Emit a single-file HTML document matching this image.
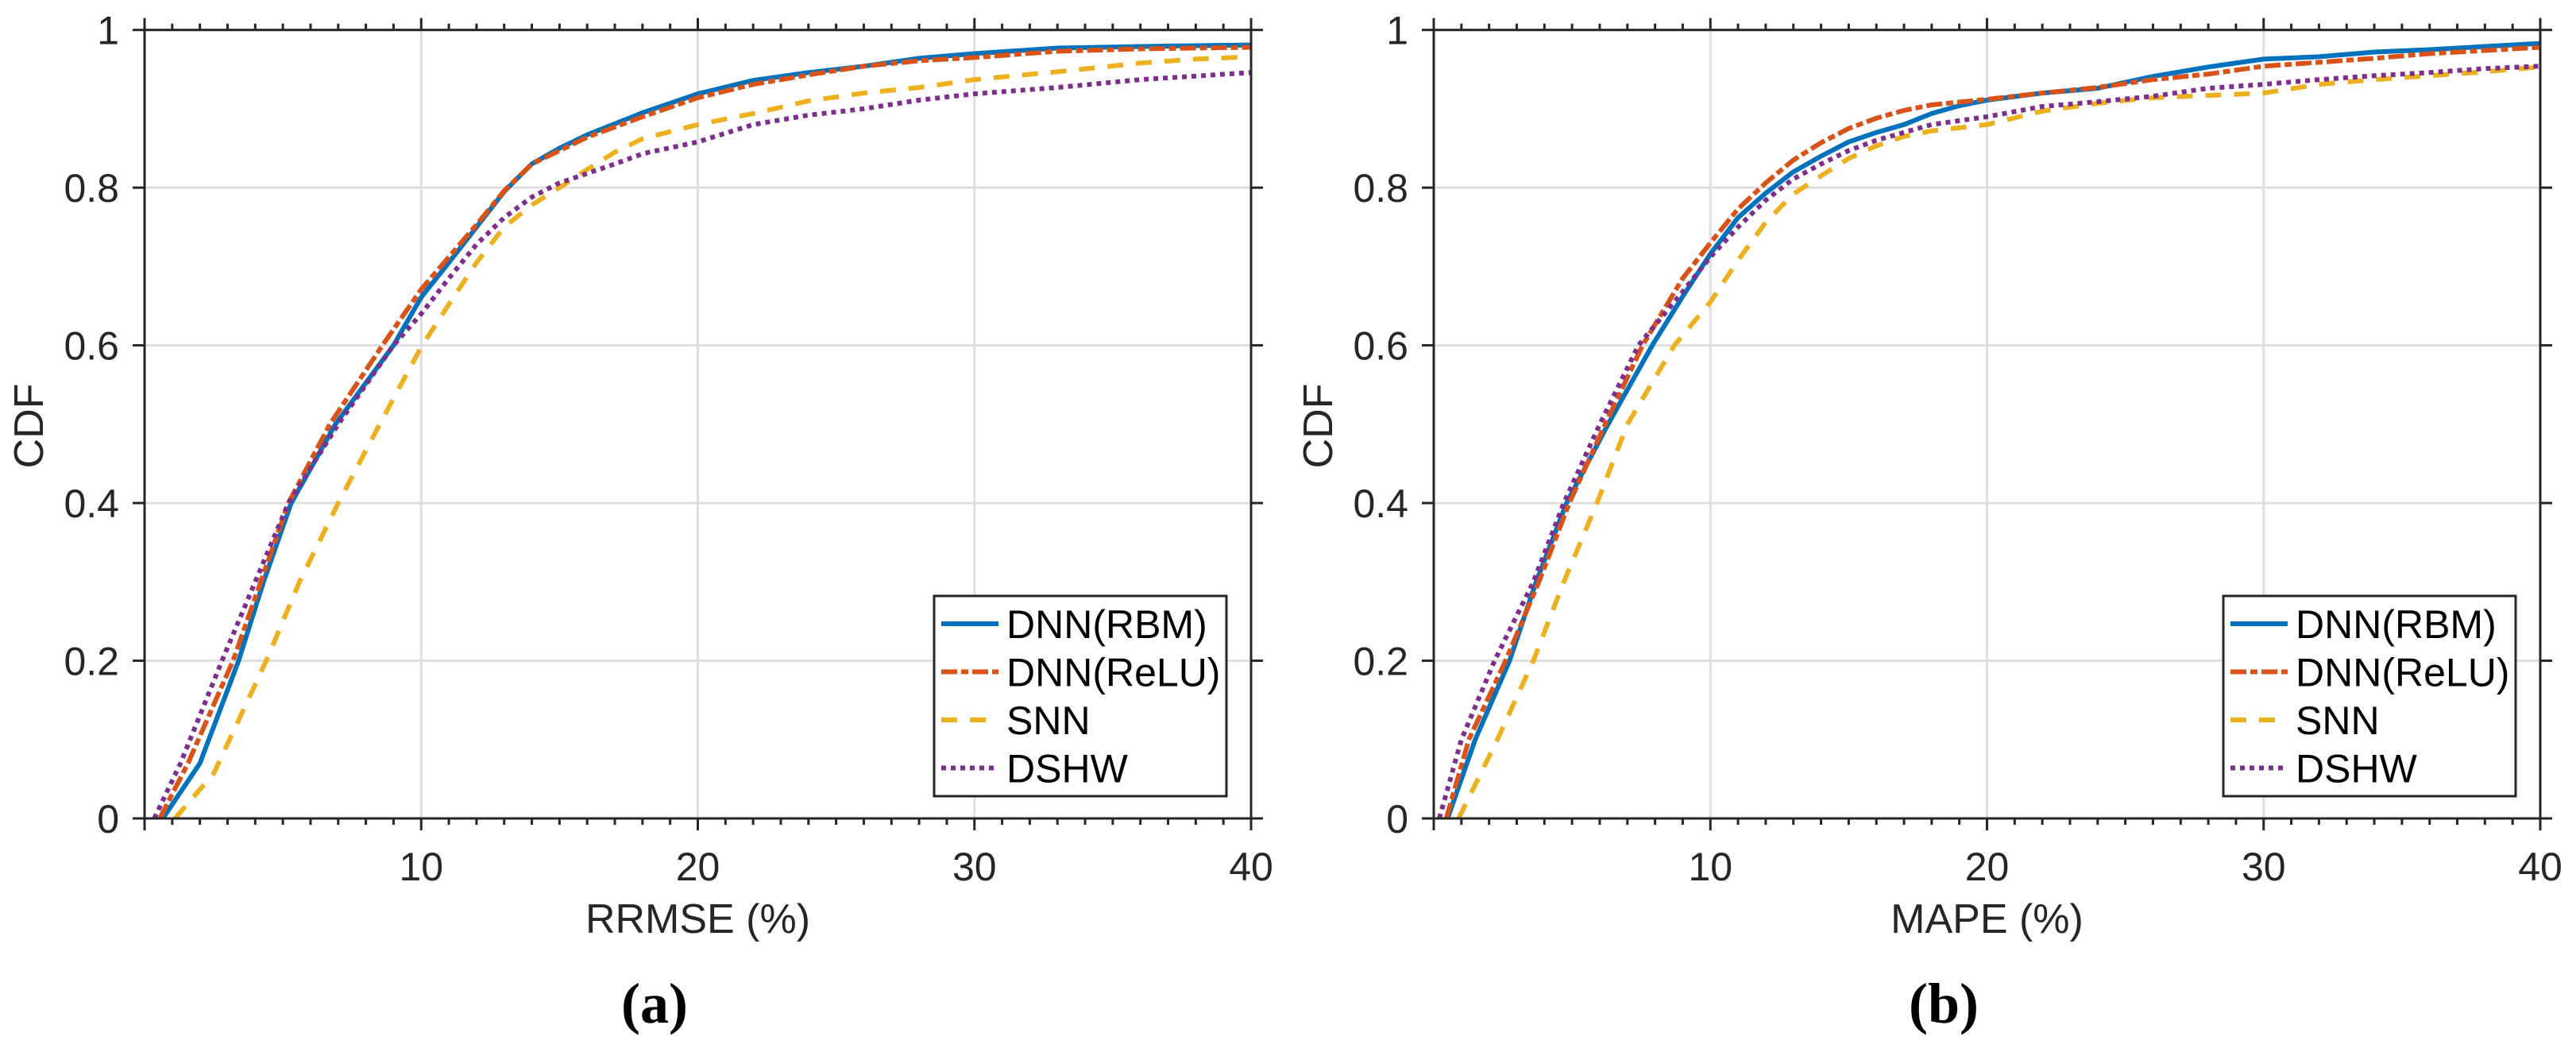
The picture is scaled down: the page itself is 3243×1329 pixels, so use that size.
<!DOCTYPE html>
<html><head><meta charset="utf-8"><style>
html,body{margin:0;padding:0;background:#fff;}
svg{display:block;font-family:"Liberation Sans",sans-serif;}
</style></head><body>
<svg id="fig" width="3243" height="1329" viewBox="0 0 3243 1329" xmlns="http://www.w3.org/2000/svg"></svg>
<script>
// ---- Data ----
const xTicks = [10, 20, 30, 40];
const yTicks = [0, 0.2, 0.4, 0.6, 0.8, 1];
const yTickLabels = ["0", "0.2", "0.4", "0.6", "0.8", "1"];
const seriesNames = ["DNN(RBM)", "DNN(ReLU)", "SNN", "DSHW"];
const panelLabels = ["(a)", "(b)"];
const xAxisTitles = ["RRMSE (%)", "MAPE (%)"];

// Panel (a): RRMSE
const aRbmX  = [0.66,2.0,3.4,4.3,5.3,6.9,9.0,10,11,12,13,14,15,16,18,20,22,24,26,28,30,33,36,40];
const aRbmY  = [0,0.07,0.2,0.3,0.4,0.5,0.6,0.661,0.705,0.75,0.795,0.830,0.850,0.867,0.895,0.919,0.936,0.946,0.954,0.964,0.970,0.977,0.979,0.981];
const aReluX = [0.55,1.57,3.2,4.2,5.2,6.7,8.6,10,11,12,13,14,16,18,20,22,24,26,28,30,33,36,40];
const aReluY = [0,0.07,0.2,0.3,0.4,0.5,0.6,0.671,0.712,0.753,0.796,0.830,0.864,0.890,0.914,0.931,0.943,0.954,0.961,0.965,0.973,0.976,0.978];
const aSnnX  = [1.1,2.5,4.4,5.6,7.0,8.5,10,11,12,13,14,15,16,17,18,20,22,24,26,28,30,33,36,38,40];
const aSnnY  = [0,0.057,0.2,0.3,0.4,0.5,0.598,0.652,0.705,0.750,0.778,0.800,0.823,0.845,0.862,0.880,0.894,0.910,0.920,0.927,0.937,0.947,0.958,0.963,0.966];
const aDshwX = [0.35,1.3,2.8,4.0,5.2,7.0,9.0,10,11,12,13,14,15,16,17,18,20,22,24,26,28,30,33,36,40];
const aDshwY = [0,0.07,0.2,0.3,0.4,0.5,0.6,0.64,0.685,0.728,0.762,0.788,0.806,0.818,0.830,0.843,0.858,0.880,0.892,0.900,0.911,0.919,0.927,0.937,0.946];

// Panel (b): MAPE
const bRbmX  = [0.5,1.5,2.74,3.7,4.8,6.3,7.9,9,10,11,12,13,14,15,16,17,18,19,20,22,24,26,28,30,32,34,36,38,40];
const bRbmY  = [0,0.1,0.2,0.3,0.4,0.5,0.6,0.662,0.716,0.762,0.793,0.820,0.840,0.858,0.870,0.880,0.894,0.904,0.911,0.920,0.926,0.941,0.953,0.963,0.966,0.972,0.975,0.979,0.983];
const bReluX = [0.45,1.27,2.6,3.8,4.9,6.2,7.55,9,10,11,12,13,14,15,16,17,18,20,22,24,26,28,30,32,34,36,38,40];
const bReluY = [0,0.1,0.2,0.3,0.4,0.5,0.6,0.685,0.73,0.773,0.806,0.835,0.857,0.875,0.888,0.898,0.905,0.912,0.920,0.927,0.937,0.944,0.954,0.959,0.964,0.970,0.974,0.978];
const bSnnX  = [0.9,2.3,3.6,4.7,5.9,7.0,8.7,10,11,12,13,14,15,16,17,18,20,22,24,26,28,30,32,34,36,38,40];
const bSnnY  = [0,0.1,0.2,0.3,0.4,0.5,0.6,0.655,0.708,0.756,0.792,0.815,0.837,0.853,0.865,0.872,0.880,0.897,0.907,0.914,0.917,0.920,0.931,0.937,0.942,0.947,0.953];
const bDshwX = [0.2,1.0,2.2,3.6,4.7,6.0,7.4,9,10,11,12,13,14,15,16,17,18,20,22,24,26,28,30,32,34,36,38,40];
const bDshwY = [0,0.1,0.2,0.3,0.4,0.5,0.6,0.668,0.712,0.750,0.784,0.811,0.830,0.847,0.860,0.870,0.880,0.890,0.903,0.909,0.916,0.926,0.931,0.937,0.942,0.946,0.951,0.954];

// ---- Rendering ----
const NS = "http://www.w3.org/2000/svg";
const svg = document.getElementById("fig");
const AX = "#262626";
const styles = [
  {color:"#0072BD", dash:null},
  {color:"#D95319", dash:"20 5 9 5"},
  {color:"#EDB120", dash:"20 16"},
  {color:"#7E2F8E", dash:"6 6"}
];
function mk(tag, attrs, parent){
  const e = document.createElementNS(NS, tag);
  for (const k in attrs) e.setAttribute(k, attrs[k]);
  (parent||svg).appendChild(e);
  return e;
}
const panels = [
  {x0:182, series:[[aRbmX,aRbmY],[aReluX,aReluY],[aSnnX,aSnnY],[aDshwX,aDshwY]]},
  {x0:1805, series:[[bRbmX,bRbmY],[bReluX,bReluY],[bSnnX,bSnnY],[bDshwX,bDshwY]]}
];
const W = 1393, TOP = 37.7, BOT = 1030, XMAX = 40;

panels.forEach((p, pi) => {
  const g = mk("g", {});
  
  
  const sx = v => p.x0 + v / XMAX * W;
  const sy = v => BOT - v * (BOT - TOP);
  xTicks.forEach(t => {
    const l = mk("line", {x1:sx(t), x2:sx(t), y1:TOP, y2:BOT, stroke:"#dfdfdf", "stroke-width":3}, g);
    
    
  });
  yTicks.forEach(t => {
    const l = mk("line", {x1:p.x0, x2:p.x0+W, y1:sy(t), y2:sy(t), stroke:"#dfdfdf", "stroke-width":3}, g);
    
    
  });
  p.series.forEach((s, si) => {
    const xs = s[0], ys = s[1];
    let d = "";
    for (let i = 0; i < xs.length; i++) d += (i ? "L" : "M") + sx(xs[i]).toFixed(1) + "," + sy(ys[i]).toFixed(1);
    const a = {d:d, fill:"none", stroke:styles[si].color, "stroke-width":6, "stroke-linejoin":"round"};
    if (styles[si].dash) a["stroke-dasharray"] = styles[si].dash;
    const path = mk("path", a, g);
    
    
  });
  const box = mk("rect", {x:p.x0, y:TOP, width:W, height:BOT-TOP, fill:"none", stroke:AX, "stroke-width":3}, g);
  
  
  for (let v = 0; v <= XMAX; v++) {
    const major = v % 10 === 0;
    const len = major ? 15 : 8;
    const tb = mk("line", {x1:sx(v), x2:sx(v), y1:BOT, y2:BOT+len, stroke:AX, "stroke-width":3}, g);
    
    
    const tt = mk("line", {x1:sx(v), x2:sx(v), y1:TOP, y2:TOP-len, stroke:AX, "stroke-width":3}, g);
    
    
  }
  xTicks.forEach(t => {
    const tx = mk("text", {x:sx(t), y:1108, "text-anchor":"middle", "font-size":50, fill:AX}, g);
    tx.textContent = String(t);
    
    
  });
  yTicks.forEach((t, i) => {
    const l1 = mk("line", {x1:p.x0-15, x2:p.x0, y1:sy(t), y2:sy(t), stroke:AX, "stroke-width":3}, g);
    
    
    const l2 = mk("line", {x1:p.x0+W, x2:p.x0+W+15, y1:sy(t), y2:sy(t), stroke:AX, "stroke-width":3}, g);
    
    
    const tx = mk("text", {x:p.x0-32, y:sy(t)+18, "text-anchor":"end", "font-size":50, fill:AX}, g);
    tx.textContent = yTickLabels[i];
    
    
  });
  const xt = mk("text", {x:p.x0+W/2, y:1174, "text-anchor":"middle", "font-size":52, fill:AX}, g);
  xt.textContent = xAxisTitles[pi];
  
  
  const yx = p.x0 - 128, yy = 536;
  const yt = mk("text", {x:yx, y:yy, "text-anchor":"middle", "font-size":52, fill:AX, transform:"rotate(-90 "+yx+" "+yy+")"}, g);
  yt.textContent = "CDF";
  
  
  const pl = mk("text", {x:p.x0+642, y:1287, "text-anchor":"middle", "font-size":72, "font-weight":"bold", fill:"#000", "font-family":"Liberation Serif, serif"}, g);
  pl.textContent = panelLabels[pi];
  
  
  const lg = mk("g", {}, g);
  
  
  const lx = p.x0 + 994;
  const lb = mk("rect", {x:lx, y:750, width:368, height:252, fill:"#fff", stroke:AX, "stroke-width":3}, lg);
  
  
  seriesNames.forEach((n, si) => {
    const cy = 785 + si * 60.5;
    const a = {x1:lx+9, x2:lx+81, y1:cy, y2:cy, stroke:styles[si].color, "stroke-width":6};
    if (styles[si].dash) a["stroke-dasharray"] = styles[si].dash;
    const ln = mk("line", a, lg);
    
    
    const t = mk("text", {x:lx+91, y:cy+18, "font-size":50, fill:"#000"}, lg);
    t.textContent = n;
    
    
  });
});
</script>
</body></html>
